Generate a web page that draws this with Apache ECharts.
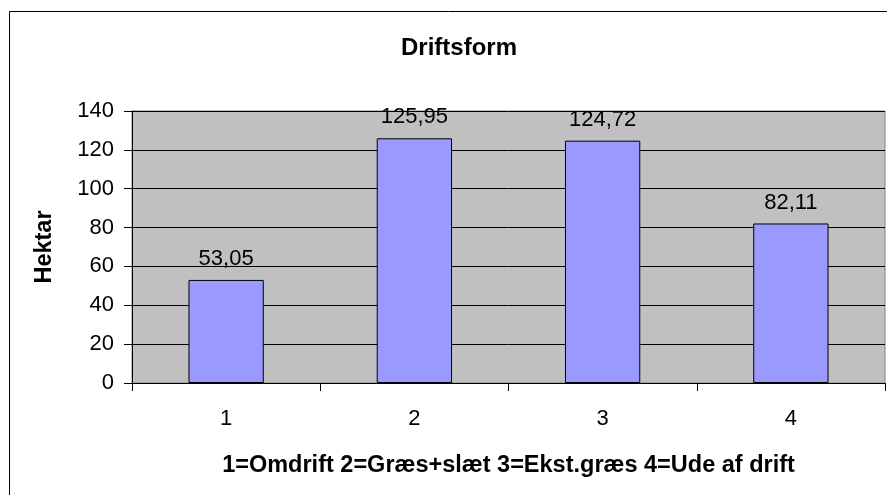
<!DOCTYPE html>
<html>
<head>
<meta charset="utf-8">
<script src="https://cdn.jsdelivr.net/npm/echarts@6/dist/echarts.min.js"></script>
<style>
  html, body { margin: 0; padding: 0; background: #fff; }
  #chart { width: 887px; height: 495px; }
</style>
</head>
<body>
<div id="chart"></div>
<script>
// driftsform - hektar pr. kategori
var categories = ['1', '2', '3', '4'];
var hektar = [53.05, 125.95, 124.72, 82.11];
var yTicks = [0, 20, 40, 60, 80, 100, 120, 140];

var chart = echarts.init(document.getElementById('chart'));

var font = 'Liberation Sans, Arial, sans-serif';

var option = {
	animation: false,
	backgroundColor: '#ffffff',
	title: {
		text: 'Driftsform',
		left: 454,
		top: 31,
		textAlign: 'center',
		textStyle: { fontFamily: font, fontSize: 24, fontWeight: 'bold', color: '#000' }
	},
	graphic: [{
		type: 'rect',
		shape: { x: 9.5, y: 11.5, width: 900, height: 500 },
		style: { fill: 'none', stroke: '#000', lineWidth: 1 },
		silent: true
	}],
	grid: {
		left: 132, right: 2, top: 111, bottom: 112,
		show: true,
		backgroundColor: '#c0c0c0',
		borderColor: '#808080',
		borderWidth: 1
	},
	xAxis: {
		type: 'category',
		data: categories,
		name: '1=Omdrift 2=Græs+slæt 3=Ekst.græs 4=Ude af drift',
		nameLocation: 'middle',
		nameGap: 71,
		nameTextStyle: { fontFamily: font, fontSize: 23.5, fontWeight: 'bold', color: '#000' },
		axisLine: { lineStyle: { color: '#000', width: 1 } },
		axisTick: { show: true, alignWithLabel: false, length: 8, lineStyle: { color: '#000' } },
		axisLabel: { margin: 25, fontFamily: font, fontSize: 22, color: '#000' }
	},
	yAxis: {
		type: 'value',
		min: yTicks[0],
		max: yTicks[yTicks.length - 1],
		interval: 20,
		name: 'Hektar',
		nameLocation: 'middle',
		nameRotate: 90,
		nameGap: 75,
		nameTextStyle: { fontFamily: font, fontSize: 23.5, fontWeight: 'bold', color: '#000' },
		axisLine: { show: true, lineStyle: { color: '#000', width: 1 } },
		axisTick: { show: true, length: 8, lineStyle: { color: '#000' } },
		axisLabel: { margin: 18, fontFamily: font, fontSize: 22, color: '#000' },
		splitLine: { show: true, lineStyle: { color: '#000', width: 1 } }
	},
	series: [{
		type: 'bar',
		data: hektar,
		barWidth: '40%',
		itemStyle: { color: '#9999ff', borderColor: '#000', borderWidth: 1 },
		label: {
			show: true,
			position: 'top',
			distance: 10,
			fontFamily: font,
			fontSize: 22,
			color: '#000',
			formatter: function (p) {
				return p.value.toFixed(2).replace('.', ',');
			}
		}
	}]
};

chart.setOption(option);
</script>
</body>
</html>
